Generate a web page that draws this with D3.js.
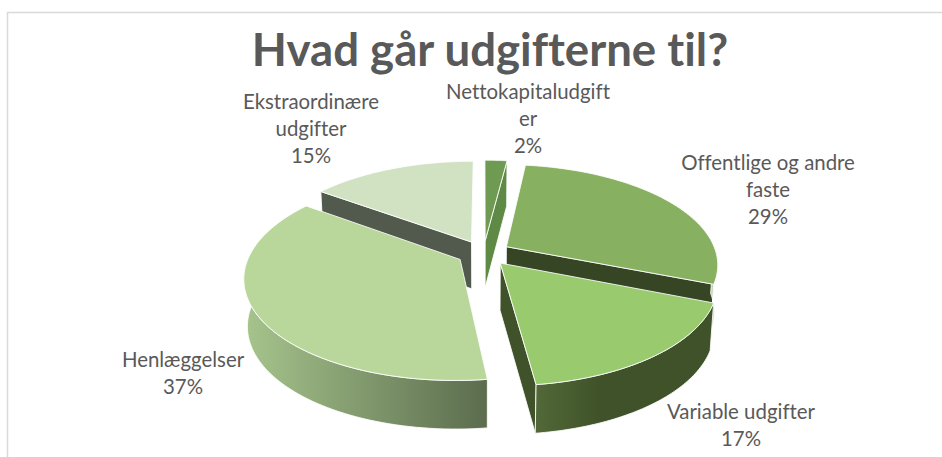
<!DOCTYPE html>
<html><head><meta charset="utf-8">
<script src="https://cdn.jsdelivr.net/npm/d3@7"></script>
<style>html,body{margin:0;padding:0;background:#fff}svg{display:block}text{font-family:Lato,"Open Sans",sans-serif;font-variant-ligatures:none}</style>
</head><body><svg id="c" width="942" height="457"></svg>
<script>
const chartTitle = "Hvad går udgifterne til?";
const categories = ["Nettokapitaludgifter","Offentlige og andre faste","Variable udgifter","Henlæggelser","Ekstraordinære udgifter"];
const shares = [2,29,17,37,15];
const labelLines = [["Nettokapitaludgift","er","2%"],["Offentlige og andre","faste","29%"],["Variable udgifter","17%"],["Henlæggelser","37%"],["Ekstraordinære","udgifter","15%"]];
const topColors = ["#6f9a52","#87b061","#99ca6e","#b9d79b","#d1e2c2"];

const svg = d3.select("#c"), W=942, H=457;
const cx=483.5, cy=253, rx=210, ry=98, persp=.17, depth=47, explode=.128;
const proj=(X,Y,z)=>{const w=1+persp*Y;return [cx+rx*X/w*(1-.015*z), cy-ry*Y/w+(depth-1.5*Y)*z];};
const slices=d3.pie().sort(null).value(d=>d)(shares);
const pt=(s,a,r,z)=>{const m=(s.startAngle+s.endAngle)/2;
  return proj(r*Math.sin(a)+explode*Math.sin(m), r*Math.cos(a)+explode*Math.cos(m), z);};
const line=d3.line();
const arcPts=(s,a0,a1,z)=>d3.range(0,61).map(i=>pt(s,a0+(a1-a0)*i/60,1,z));
const radial=(s,a)=>[pt(s,a,0,0),pt(s,a,1,0),pt(s,a,1,1),pt(s,a,0,1)];

svg.append("rect").attr("width",W).attr("height",H).attr("fill","#fff");
svg.append("path").attr("d","M7.5,457V12.5H942").attr("fill","none").attr("stroke","#d9d9d9").attr("stroke-width",1.5);

const defs=svg.append("defs");
const grad=(id,x1,x2,c1,c2)=>{const g=defs.append("linearGradient").attr("id",id).attr("gradientUnits","userSpaceOnUse")
  .attr("x1",x1).attr("x2",x2).attr("y1",0).attr("y2",0);
  g.append("stop").attr("offset",0).attr("stop-color",c1);g.append("stop").attr("offset",1).attr("stop-color",c2);};
grad("gH",245,490,"#a6c48c","#5a6b4d");
grad("gV",537,600,"#526838","#3f5229");

const poly=(pts,fill)=>svg.append("path").attr("d",line(pts)+"Z").attr("fill",fill).attr("stroke","#fff").attr("stroke-width",1).attr("stroke-linejoin","round").attr("stroke-opacity",.85);
const topFace=(s,c)=>poly([pt(s,0,0,0),...arcPts(s,s.startAngle,s.endAngle,0)],c);
const outer=(s,a0,a1,fill)=>poly([...arcPts(s,a0,a1,0),...arcPts(s,a0,a1,1).reverse()],fill);

let s=slices[4]; poly(radial(s,s.startAngle),"#525a4d"); topFace(s,topColors[4]);
s=slices[0]; poly(radial(s,s.endAngle),"#5f8a45"); topFace(s,topColors[0]);
s=slices[1]; poly(radial(s,s.endAngle),"#364524"); outer(s,Math.PI/2,s.endAngle,"#c5d3b4"); topFace(s,topColors[1]);
s=slices[3]; outer(s,s.startAngle,Math.PI*1.5,"url(#gH)"); topFace(s,topColors[3]);
s=slices[2]; poly(radial(s,s.endAngle),"#3f5229"); outer(s,s.startAngle,s.endAngle,"url(#gV)"); topFace(s,topColors[2]);

svg.append("text").attr("x",490).attr("y",66).attr("text-anchor","middle").attr("font-size",45.6).attr("font-weight",700).attr("fill","#595959").text(chartTitle);

const labelPos=[[528,99],[768,170],[741,419],[183,367],[311,109]];
labelLines.forEach((ls,i)=>{
  const t=svg.append("text").attr("text-anchor","middle").attr("font-size",20.4).attr("fill","#595959");
  ls.forEach((l,j)=>t.append("tspan").attr("x",labelPos[i][0]).attr("y",labelPos[i][1]+j*27).text(l));
});
</script></body></html>
